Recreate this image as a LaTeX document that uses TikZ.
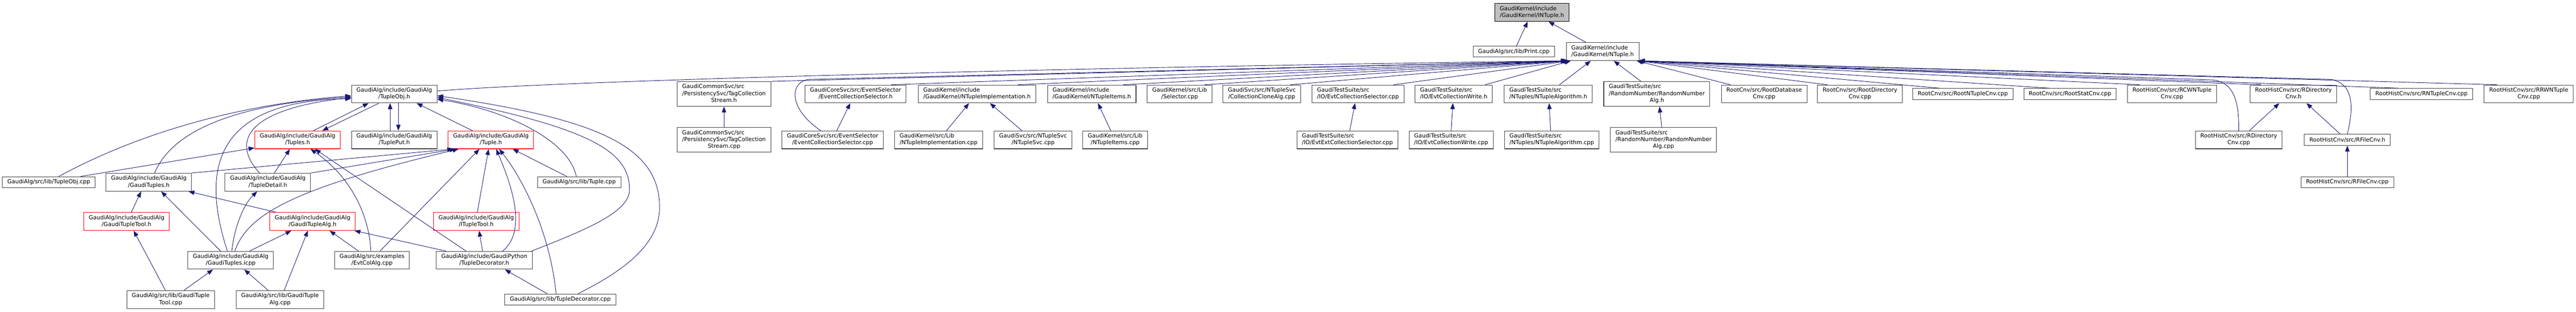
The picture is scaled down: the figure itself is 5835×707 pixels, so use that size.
\documentclass[tikz,border=0pt]{standalone}
\usepackage{fontspec}
\setmainfont{DejaVu Sans}
\usetikzlibrary{arrows.meta}
\definecolor{edgeblue}{HTML}{191970}
\definecolor{boxgray}{HTML}{404040}
\definecolor{rootfill}{HTML}{BFBFBF}
% file labels: first lines left, last line centred
\newcommand{\twol}[2]{\begin{tabular}{@{}l@{}}#1\\\multicolumn{1}{@{}c@{}}{#2}\end{tabular}}
\newcommand{\threel}[3]{\begin{tabular}{@{}l@{}}#1\\#2\\\multicolumn{1}{@{}c@{}}{#3}\end{tabular}}
\begin{document}
\begin{tikzpicture}[x=0.75pt, y=-0.75pt,
    file/.style={draw=boxgray, line width=0.9pt, rectangle, inner xsep=8.6pt, inner ysep=0pt,
      font=\fontsize{9.6}{11.6}\selectfont},
    one/.style={file, minimum height=18.75pt},
    two/.style={file, minimum height=30.4pt},
    three/.style={file, minimum height=42pt},
    trunc/.style={draw=red},
    root/.style={draw=black, fill=rootfill},
    inc/.style={draw=edgeblue, line width=0.8pt, -{Triangle[length=10pt,width=7.5pt]}}]
    \useasboundingbox (0,0) rectangle (5835,707);

    % Header and its direct includers
    \node[two, root] (INTupleH) at (3470,28) {\twol{GaudiKernel/include}{/GaudiKernel/INTuple.h}};
    \node[one] (PrintCpp) at (3429,117) {GaudiAlg/src/lib/Print.cpp};
    \node[two] (NTupleH) at (3630,117) {\twol{GaudiKernel/include}{/GaudiKernel/NTuple.h}};

    % Files including NTuple.h
    \node[two] (TupleObjH) at (893,213) {\twol{GaudiAlg/include/GaudiAlg}{/TupleObj.h}};
    \node[three] (TagCollH) at (1640,213) {\threel{GaudiCommonSvc/src}{/PersistencySvc/TagCollection}{Stream.h}};
    \node[two] (EvtCollSelH) at (1938,213) {\twol{GaudiCoreSvc/src/EventSelector}{/EventCollectionSelector.h}};
    \node[two] (NTupleImplH) at (2213,213) {\twol{GaudiKernel/include}{/GaudiKernel/NTupleImplementation.h}};
    \node[two] (NTupleItemsH) at (2473,213) {\twol{GaudiKernel/include}{/GaudiKernel/NTupleItems.h}};
    \node[two] (SelectorCpp) at (2672,213) {\twol{GaudiKernel/src/Lib}{/Selector.cpp}};
    \node[two] (CollCloneCpp) at (2858,213) {\twol{GaudiSvc/src/NTupleSvc}{/CollectionCloneAlg.cpp}};
    \node[two] (EvtCollSelCpp) at (3076,213) {\twol{GaudiTestSuite/src}{/IO/EvtCollectionSelector.cpp}};
    \node[two] (EvtCollWriteH) at (3293,213) {\twol{GaudiTestSuite/src}{/IO/EvtCollectionWrite.h}};
    \node[two] (NTupleAlgH) at (3507,213) {\twol{GaudiTestSuite/src}{/NTuples/NTupleAlgorithm.h}};
    \node[three] (RndmAlgH) at (3753,213) {\threel{GaudiTestSuite/src}{/RandomNumber/RandomNumber}{Alg.h}};
    \node[two] (RootDbCnvCpp) at (3996,213) {\twol{RootCnv/src/RootDatabase}{Cnv.cpp}};
    \node[two] (RootDirCnvCpp) at (4213,213) {\twol{RootCnv/src/RootDirectory}{Cnv.cpp}};
    \node[one] (RootNTupleCnvCpp) at (4446,213) {RootCnv/src/RootNTupleCnv.cpp};
    \node[one] (RootStatCnvCpp) at (4689,213) {RootCnv/src/RootStatCnv.cpp};
    \node[two] (RCWNTupleCnvCpp) at (4920,213) {\twol{RootHistCnv/src/RCWNTuple}{Cnv.cpp}};
    \node[two] (RDirCnvH) at (5195,213) {\twol{RootHistCnv/src/RDirectory}{Cnv.h}};
    \node[one] (RNTupleCnvCpp) at (5485,213) {RootHistCnv/src/RNTupleCnv.cpp};
    \node[two] (RRWNTupleCnvCpp) at (5728,213) {\twol{RootHistCnv/src/RRWNTuple}{Cnv.cpp}};

    % Next rank
    \node[two, trunc] (TuplesH) at (674,317) {\twol{GaudiAlg/include/GaudiAlg}{/Tuples.h}};
    \node[two] (TuplePutH) at (893,317) {\twol{GaudiAlg/include/GaudiAlg}{/TuplePut.h}};
    \node[two, trunc] (TupleH) at (1112,317) {\twol{GaudiAlg/include/GaudiAlg}{/Tuple.h}};
    \node[three] (TagCollCpp) at (1640,317) {\threel{GaudiCommonSvc/src}{/PersistencySvc/TagCollection}{Stream.cpp}};
    \node[two] (EvtCollSelCoreCpp) at (1886,317) {\twol{GaudiCoreSvc/src/EventSelector}{/EventCollectionSelector.cpp}};
    \node[two] (NTupleImplCpp) at (2126,317) {\twol{GaudiKernel/src/Lib}{/NTupleImplementation.cpp}};
    \node[two] (NTupleSvcCpp) at (2340,317) {\twol{GaudiSvc/src/NTupleSvc}{/NTupleSvc.cpp}};
    \node[two] (NTupleItemsCpp) at (2526,317) {\twol{GaudiKernel/src/Lib}{/NTupleItems.cpp}};
    \node[two] (EvtExtCollSelCpp) at (3052,317) {\twol{GaudiTestSuite/src}{/IO/EvtExtCollectionSelector.cpp}};
    \node[two] (EvtCollWriteCpp) at (3287,317) {\twol{GaudiTestSuite/src}{/IO/EvtCollectionWrite.cpp}};
    \node[two] (NTupleAlgCpp) at (3515,317) {\twol{GaudiTestSuite/src}{/NTuples/NTupleAlgorithm.cpp}};
    \node[three] (RndmAlgCpp) at (3768,317) {\threel{GaudiTestSuite/src}{/RandomNumber/RandomNumber}{Alg.cpp}};
    \node[two] (RDirCnvCpp) at (5071,317) {\twol{RootHistCnv/src/RDirectory}{Cnv.cpp}};
    \node[one] (RFileCnvH) at (5317,317) {RootHistCnv/src/RFileCnv.h};

    \node[one] (TupleObjCpp) at (110.5,413) {GaudiAlg/src/lib/TupleObj.cpp};
    \node[two] (GaudiTuplesH) at (337,413) {\twol{GaudiAlg/include/GaudiAlg}{/GaudiTuples.h}};
    \node[two] (TupleDetailH) at (606.7,413) {\twol{GaudiAlg/include/GaudiAlg}{/TupleDetail.h}};
    \node[one] (TupleCpp) at (1312,413) {GaudiAlg/src/lib/Tuple.cpp};
    \node[one] (RFileCnvCpp) at (5317,413) {RootHistCnv/src/RFileCnv.cpp};

    \node[two, trunc] (GTupleToolH) at (286.7,502) {\twol{GaudiAlg/include/GaudiAlg}{/GaudiTupleTool.h}};
    \node[two, trunc] (GTupleAlgH) at (708,502) {\twol{GaudiAlg/include/GaudiAlg}{/GaudiTupleAlg.h}};
    \node[two, trunc] (ITupleToolH) at (1078.6,502) {\twol{GaudiAlg/include/GaudiAlg}{/ITupleTool.h}};

    \node[two] (GTuplesIcpp) at (522.5,590) {\twol{GaudiAlg/include/GaudiAlg}{/GaudiTuples.icpp}};
    \node[two] (EvtColAlgCpp) at (842.7,590) {\twol{GaudiAlg/src/examples}{/EvtColAlg.cpp}};
    \node[two] (TupleDecoH) at (1097,590) {\twol{GaudiAlg/include/GaudiPython}{/TupleDecorator.h}};

    \node[two] (GTupleToolCpp) at (386.7,679) {\twol{GaudiAlg/src/lib/GaudiTuple}{Tool.cpp}};
    \node[two] (GTupleAlgCpp) at (634.3,679) {\twol{GaudiAlg/src/lib/GaudiTuple}{Alg.cpp}};
    \node[one] (TupleDecoCpp) at (1269,679) {GaudiAlg/src/lib/TupleDecorator.cpp};

    % Top edges
    \draw[inc] (PrintCpp) -- (INTupleH);
    \draw[inc] (NTupleH) -- (INTupleH);

    % Fan into NTuple.h
    \draw[inc] ([yshift=5pt]TupleObjH.east) .. controls (1300,180) and (2600,150) .. ([xshift=-61pt]NTupleH.south);
    \draw[inc] (TagCollH.north east) -- ([xshift=-60pt]NTupleH.south);
    \draw[inc] ([xshift=-20pt]EvtCollSelCoreCpp.north) .. controls (1790,250) and (1785,190) .. (1830,180) -- ([xshift=-59pt]NTupleH.south);
    \draw[inc] ([xshift=-26pt]EvtCollSelH.north east) -- ([xshift=-58pt]NTupleH.south);
    \draw[inc] ([xshift=-31pt]NTupleImplH.north east) -- ([xshift=-57pt]NTupleH.south);
    \draw[inc] ([xshift=-22pt]NTupleItemsH.north east) -- ([xshift=-57pt]NTupleH.south);
    \draw[inc] ([xshift=-13pt]SelectorCpp.north east) -- ([xshift=-56pt]NTupleH.south);
    \draw[inc] ([xshift=-18pt]CollCloneCpp.north east) -- ([xshift=-56pt]NTupleH.south);
    \draw[inc] ([xshift=-18pt]EvtCollSelCpp.north east) -- ([xshift=-55pt]NTupleH.south);
    \draw[inc] ([xshift=-13pt]EvtCollWriteH.north east) -- ([xshift=-54pt]NTupleH.south);
    \draw[inc] ([xshift=19pt]NTupleAlgH.north) -- ([xshift=-20pt]NTupleH.south);
    \draw[inc] ([xshift=-27pt]RndmAlgH.north) -- ([xshift=19pt]NTupleH.south);
    \draw[inc] ([xshift=16pt]RootDbCnvCpp.north west) -- ([xshift=58pt]NTupleH.south);
    \draw[inc] ([xshift=17pt]RootDirCnvCpp.north west) -- ([xshift=59pt]NTupleH.south);
    \draw[inc] ([xshift=46pt]RootNTupleCnvCpp.north west) -- ([xshift=59.5pt]NTupleH.south);
    \draw[inc] ([xshift=44pt]RootStatCnvCpp.north west) -- ([xshift=60pt]NTupleH.south);
    \draw[inc] ([xshift=21pt]RCWNTupleCnvCpp.north west) -- ([xshift=60pt]NTupleH.south);
    \draw[inc] (RDirCnvCpp.north) .. controls (5072,230) and (5060,185) .. (5010,181) -- ([xshift=60.5pt]NTupleH.south);
    \draw[inc] ([xshift=19pt]RDirCnvH.north west) -- ([xshift=61pt]NTupleH.south);
    \draw[inc] (RFileCnvH.north) .. controls (5330,250) and (5335,190) .. (5280,180) -- ([xshift=61pt]NTupleH.south);
    \draw[inc] ([xshift=48pt]RNTupleCnvCpp.north west) -- ([xshift=61.5pt]NTupleH.south);
    \draw[inc] ([xshift=22pt]RRWNTupleCnvCpp.north west) -- ([xshift=62pt]NTupleH.south);

    % Short edges on the right
    \draw[inc] (TagCollCpp) -- (TagCollH);
    \draw[inc] ([xshift=7pt]EvtCollSelCoreCpp.north) -- ([xshift=-9pt]EvtCollSelH.south);
    \draw[inc] ([xshift=13.5pt]NTupleImplCpp.north) -- ([xshift=-13.5pt]NTupleImplH.south);
    \draw[inc] ([xshift=-19pt]NTupleSvcCpp.north) -- ([xshift=22pt]NTupleImplH.south);
    \draw[inc] ([xshift=-7.5pt]NTupleItemsCpp.north) -- ([xshift=10.5pt]NTupleItemsH.south);
    \draw[inc] ([xshift=4pt]EvtExtCollSelCpp.north) -- ([xshift=-5pt]EvtCollSelCpp.south);
    \draw[inc] (EvtCollWriteCpp.north) -- ([xshift=-1.5pt]EvtCollWriteH.south);
    \draw[inc] ([xshift=-2pt]NTupleAlgCpp.north) -- ([xshift=1.5pt]NTupleAlgH.south);
    \draw[inc] ([xshift=-3pt]RndmAlgCpp.north) -- ([xshift=4.5pt]RndmAlgH.south);
    \draw[inc] ([xshift=18pt]RDirCnvCpp.north) -- ([xshift=-24pt]RDirCnvH.south);
    \draw[inc] ([xshift=-12pt]RFileCnvH.north) -- ([xshift=22pt]RDirCnvH.south);
    \draw[inc] (RFileCnvCpp) -- (RFileCnvH);

    % TupleObj.h cluster
    \draw[inc] ([xshift=17pt]TupleObjCpp.north) .. controls (280,320) and (500,240) .. ([yshift=-3pt]TupleObjH.west);
    \draw[inc] ([xshift=54pt]TupleObjCpp.north) -- ([yshift=2pt]TuplesH.south west);
    \draw[inc] ([xshift=10pt]GaudiTuplesH.north) .. controls (380,320) and (480,240) .. ([yshift=-5pt]TupleObjH.west);
    \draw[inc] (GaudiTuplesH.north east) -- ([xshift=-64pt]TupleH.south);
    \draw[inc] ([xshift=-14pt]TupleDetailH.north) .. controls (530,330) and (540,250) .. ([yshift=-6pt]TupleObjH.west);
    \draw[inc] ([xshift=11pt]TupleDetailH.north) -- ([xshift=-13pt]TuplesH.south);
    \draw[inc] (TupleDetailH.north east) -- ([xshift=-60pt]TupleH.south);
    \draw[inc] ([xshift=-62pt]GTupleAlgH.north) -- ([xshift=67.5pt]GaudiTuplesH.south);
    \draw[inc] ([xshift=8pt]GTupleToolH.north) -- ([xshift=-13pt]GaudiTuplesH.south);
    \draw[inc] ([xshift=-17pt]GTuplesIcpp.north) -- ([xshift=21pt]GaudiTuplesH.south);
    \draw[inc] ([xshift=-5.6pt]GTuplesIcpp.north) .. controls (460,400) and (470,230) .. ([yshift=-8pt]TupleObjH.west);
    \draw[inc] ([xshift=2pt]GTuplesIcpp.north) .. controls (530,520) and (550,465) .. ([xshift=-18pt]TupleDetailH.south);
    \draw[inc] ([xshift=32pt]GTuplesIcpp.north) -- ([xshift=-36pt]GTupleAlgH.south);
    \draw[inc] ([xshift=7pt]GTuplesIcpp.north) .. controls (560,490) and (650,430) .. ([xshift=-55pt]TupleH.south);
    \draw[inc] ([xshift=-9pt]GTupleToolCpp.north) -- ([xshift=12pt]GTupleToolH.south);
    \draw[inc] ([xshift=22.5pt]GTupleToolCpp.north) -- ([xshift=-30pt]GTuplesIcpp.south);
    \draw[inc] ([xshift=7pt]GTupleAlgCpp.north) -- ([xshift=-8pt]GTupleAlgH.south);
    \draw[inc] ([xshift=-20pt]GTupleAlgCpp.north) -- ([xshift=23pt]GTuplesIcpp.south);
    \draw[inc] ([xshift=-23pt]EvtColAlgCpp.north) -- ([xshift=29pt]GTupleAlgH.south);
    \draw[inc] ([xshift=-2pt]EvtColAlgCpp.north) .. controls (835,470) and (780,390) .. ([xshift=22pt]TuplesH.south);
    \draw[inc] ([xshift=13.5pt]EvtColAlgCpp.north) -- ([xshift=-19.5pt]TupleH.south);
    \draw[inc] ([xshift=-65pt]TupleDecoH.north) -- ([xshift=-2pt]GTupleAlgH.south east);
    \draw[inc] ([xshift=-31pt]TupleDecoH.north) -- ([xshift=29.5pt]TuplesH.south);
    \draw[inc] ([xshift=-3pt]TupleDecoH.north) -- ([xshift=5pt]ITupleToolH.south);
    \draw[inc] ([xshift=31pt]TupleDecoH.north) .. controls (1200,520) and (1150,400) .. ([xshift=9pt]TupleH.south);
    \draw[inc] ([xshift=-2pt]TupleDecoH.north east) .. controls (1330,520) and (1426,480) .. (1426,430)
        .. controls (1426,340) and (1330,290) .. ([yshift=-6pt]TupleObjH.east);
    \draw[inc] ([xshift=-22pt]TupleDecoCpp.north) -- ([xshift=35pt]TupleDecoH.south);
    \draw[inc] ([xshift=-7pt]TupleDecoCpp.north) .. controls (1245,520) and (1180,400) .. ([xshift=14pt]TupleH.south);
    \draw[inc] ([xshift=30pt]TupleDecoCpp.north) .. controls (1400,620) and (1494,560) .. (1494,470)
        .. controls (1494,330) and (1350,270) .. ([yshift=-3pt]TupleObjH.east);
    \draw[inc] ([xshift=2pt]ITupleToolH.north) -- ([xshift=-4pt]TupleH.south);
    \draw[inc] ([xshift=-21pt]TupleCpp.north) -- ([xshift=37pt]TupleH.south);
    \draw[inc] ([xshift=-5pt]TupleCpp.north) .. controls (1290,320) and (1150,250) .. ([yshift=-9pt]TupleObjH.east);
    \draw[inc] ([xshift=27pt]TuplesH.north) -- ([xshift=-43.5pt]TupleObjH.south);
    \draw[inc] ([xshift=-26pt]TupleObjH.south) -- ([xshift=42pt]TuplesH.north);
    \draw[inc] ([xshift=-7pt]TuplePutH.north) -- ([xshift=-7pt]TupleObjH.south);
    \draw[inc] ([xshift=7pt]TupleObjH.south) -- ([xshift=7pt]TuplePutH.north);
    \draw[inc] ([xshift=-31.5pt]TupleH.north) -- ([xshift=38pt]TupleObjH.south);
\end{tikzpicture}
\end{document}
